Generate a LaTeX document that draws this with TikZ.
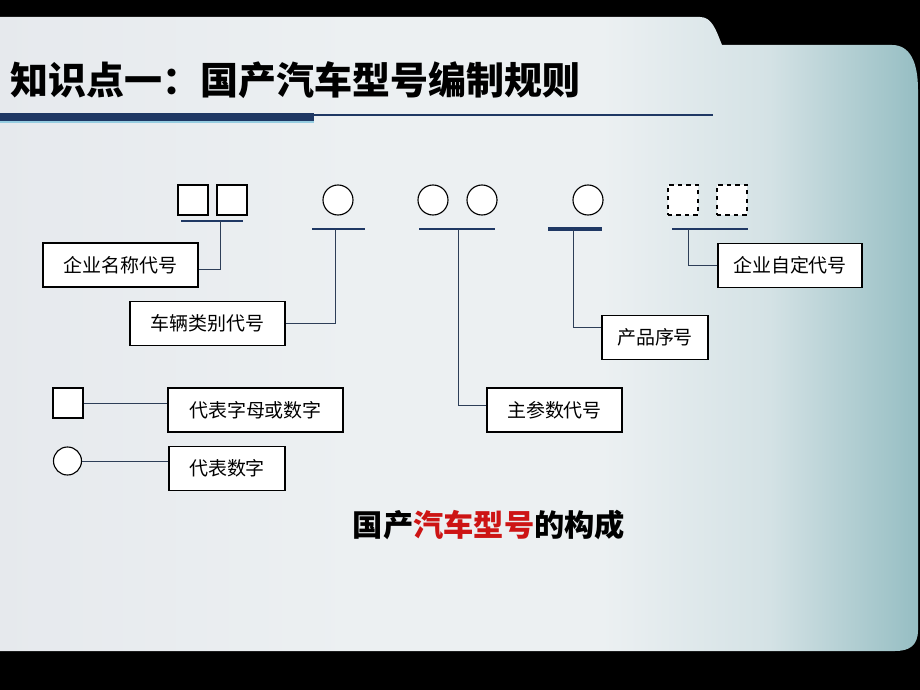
\documentclass[tikz,border=0pt]{standalone}
\usepackage{fontspec}
\newfontfamily\cjk{Noto Sans CJK SC}
\usetikzlibrary{calc}
\definecolor{navy}{RGB}{31,56,100}
\definecolor{linkcol}{RGB}{45,62,88}
\definecolor{panelL}{RGB}{230,233,237}
\definecolor{panelM}{RGB}{236,240,242}
\definecolor{panelN}{RGB}{212,226,229}
\definecolor{panelR}{RGB}{150,190,195}
\definecolor{glow}{RGB}{150,205,225}
\definecolor{capred}{RGB}{205,20,20}
\pgfdeclarehorizontalshading{panelshade}{100bp}{color(0bp)=(panelL); color(25bp)=(panelL);
  color(45bp)=(panelM); color(58bp)=(panelM); color(67bp)=(panelN); color(75bp)=(panelR);
  color(100bp)=(panelR)}

\begin{document}
\begin{tikzpicture}[x=0.025cm,y=-0.025cm,
    labelbox/.style={draw=black,line width=0.9pt,fill=white,font=\cjk\fontsize{13.5pt}{16pt}\selectfont,
      minimum height=1.1cm,inner sep=0pt},
    letter/.style={draw=black,line width=0.8pt,fill=white,minimum size=0.75cm,inner sep=0pt},
    optletter/.style={letter,dashed},
    digit/.style={letter,circle},
    bar/.style={draw=navy,line width=2.1pt},
    link/.style={draw=linkcol,line width=0.7pt}]
    \useasboundingbox (0,0) rectangle (920,690);
    \fill[black] (0,0) rectangle (920,690);
    \shade[shading=panelshade]
      (-10,17) -- (700,17) .. controls (712,17) and (716,30) .. (722,45)
      -- (892,45) .. controls (910,45) and (918,62) .. (918,90)
      -- (918,630) .. controls (918,645) and (910,651) .. (895,651)
      -- (-10,651) -- cycle;
    \node[anchor=west,font=\cjk\bfseries\fontsize{27pt}{30pt}\selectfont] (title) at (6,80) {知识点一：国产汽车型号编制规则};
    \draw[glow,line width=1.4pt] (-5,122) -- (314,122);
    \draw[navy,line width=5pt] (-5,117) -- (314,117);
    \draw[navy,line width=1.4pt] (314,115) -- (713,115);

    \node[letter] (sqA) at (193,200) {};
    \node[letter] (sqB) at (232,200) {};
    \node[digit] (cA) at (338,200) {};
    \node[digit] (cB) at (433,200) {};
    \node[digit] (cC) at (482,200) {};
    \node[digit] (cD) at (588,200) {};
    \node[optletter] (dA) at (683,200) {};
    \node[optletter] (dB) at (732,200) {};

    \draw[bar] (181,221) -- (243,221);
    \draw[bar] (312,229) -- (365,229);
    \draw[bar] (419,229) -- (495,229);
    \draw[bar,line width=2.8pt] (548,229) -- (602,229);
    \draw[bar] (672,229) -- (748,229);
    \coordinate (t1) at (220,221);
    \coordinate (t2) at (335,229);
    \coordinate (t3) at (458,229);
    \coordinate (t4) at (573,229);
    \coordinate (t5) at (688,229);

    \node[labelbox,minimum width=3.875cm] (qymc) at (120.5,265) {企业名称代号};
    \node[labelbox,minimum width=3.875cm] (clxb) at (207.5,323.5) {车辆类别代号};
    \node[labelbox,minimum width=3.375cm] (zcs) at (554.5,410) {主参数代号};
    \node[labelbox,minimum width=2.65cm] (cpxh) at (655,337.5) {产品序号};
    \node[labelbox,minimum width=3.6cm] (qyzd) at (790,265.5) {企业自定代号};

    \draw[link] (t1) |- ([yshift=-3pt]qymc.east);
    \draw[link] (t2) |- (clxb.east);
    \draw[link] (t3) |- ([yshift=3pt]zcs.west);
    \draw[link] (t4) |- ([yshift=7pt]cpxh.west);
    \draw[link] (t5) |- (qyzd.west);

    \node[letter] (lsq) at (68,403) {};
    \node[digit,minimum size=0.7cm] (lci) at (67.5,461) {};
    \node[labelbox,minimum width=4.375cm] (zm) at (255.5,410) {代表字母或数字};
    \node[labelbox,minimum width=2.9cm] (sz) at (227,468.5) {代表数字};
    \draw[link] (lsq.east) -- (lsq.east -| zm.west);
    \draw[link] (lci.east) -- (lci.east -| sz.west);

    \node[font=\cjk\bfseries\fontsize{21.5pt}{24pt}\selectfont] (caption) at (489,525)
      {国产\textcolor{capred}{汽车型号}的构成};
\end{tikzpicture}
\end{document}
